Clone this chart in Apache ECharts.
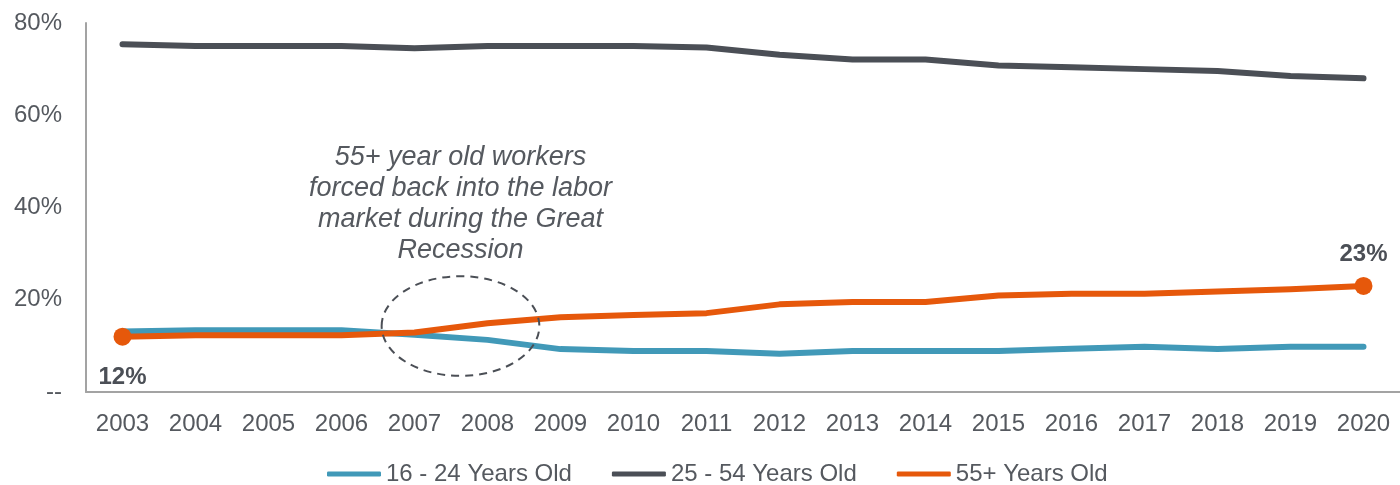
<!DOCTYPE html>
<html>
<head>
<meta charset="utf-8">
<script src="https://cdn.jsdelivr.net/npm/echarts@6/dist/echarts.min.js"></script>
<style>
  html, body { margin: 0; padding: 0; background: #ffffff; }
  #chart { width: 1400px; height: 485px; }
</style>
</head>
<body>
<div id="chart"></div>
<script>
// Share of the labor force by age group, 2003-2020 (percent)
const years = ['2003', '2004', '2005', '2006', '2007', '2008', '2009', '2010', '2011',
               '2012', '2013', '2014', '2015', '2016', '2017', '2018', '2019', '2020'];
const youth = [13.1, 13.4, 13.4, 13.4, 12.4, 11.3, 9.3, 8.9, 8.9,
               8.3, 8.9, 8.9, 8.9, 9.4, 9.8, 9.3, 9.8, 9.8];
const prime = [75.4, 75.0, 75.0, 75.0, 74.5, 75.0, 75.0, 75.0, 74.7,
               73.1, 72.1, 72.1, 70.8, 70.4, 70.0, 69.6, 68.5, 68.0];
const older = [12.0, 12.3, 12.3, 12.3, 12.9, 14.9, 16.2, 16.7, 17.1,
               19.0, 19.5, 19.5, 20.9, 21.3, 21.3, 21.8, 22.3, 23.0];
const seriesNames = ['16 - 24 Years Old', '25 - 54 Years Old', '55+ Years Old'];
const note = ['55+ year old workers', 'forced back into the labor',
              'market during the Great', 'Recession'];

const FONT = "'Liberation Sans', Arial, Helvetica, sans-serif";
const TEXT = '#55595f';
const AXIS = '#a3a3a3';
const COLORS = ['#4199b8', '#4b4f56', '#e6580b'];

// Only the first and last points of the 55+ line carry a marker and value label
const olderData = older.map((v, i) => {
  if (i === 0 || i === older.length - 1) {
    return {
      value: v,
      symbol: 'circle',
      symbolSize: 18,
      label: {
        show: true,
        position: i === 0 ? 'bottom' : 'top',
        distance: i === 0 ? 20 : 11,
        formatter: p => Math.round(p.value) + '%',
        fontFamily: FONT,
        fontSize: 24,
        fontWeight: 'bold',
        color: '#4b4f56'
      }
    };
  }
  return v;
});

function lineSeries(name, data, color, z) {
  return {
    name, type: 'line', data, z,
    symbol: 'none',
    color,
    lineStyle: { width: 6, color, cap: 'round', join: 'round' },
    itemStyle: { color },
    emphasis: { disabled: true }
  };
}

const chart = echarts.init(document.getElementById('chart'), null, { renderer: 'canvas' });

chart.setOption({
  animation: false,
  backgroundColor: '#ffffff',
  textStyle: { fontFamily: FONT },
  grid: { left: 86, top: 23, width: 1321, height: 369, containLabel: false },
  legend: {
    data: seriesNames,
    left: 322,
    top: 457,
    icon: 'roundRect',
    itemWidth: 54,
    itemHeight: 5,
    itemGap: 40,
    textStyle: { fontFamily: FONT, fontSize: 24, color: TEXT },
    selectedMode: false
  },
  xAxis: {
    type: 'category',
    data: years,
    boundaryGap: true,
    axisLine: { show: true, lineStyle: { color: AXIS, width: 2 } },
    axisTick: { show: false },
    splitLine: { show: false },
    axisLabel: { fontFamily: FONT, fontSize: 24, color: TEXT, margin: 20, interval: 0 }
  },
  yAxis: {
    type: 'value',
    min: 0, max: 80, interval: 20,
    axisLine: { show: true, lineStyle: { color: AXIS, width: 2 } },
    axisTick: { show: false },
    splitLine: { show: false },
    axisLabel: {
      fontFamily: FONT, fontSize: 24, color: TEXT, margin: 24,
      padding: [6, 0, 0, 0],
      formatter: v => (v === 0 ? '--' : v + '%')
    }
  },
  series: [
    lineSeries(seriesNames[0], youth, COLORS[0], 2),
    lineSeries(seriesNames[1], prime, COLORS[1], 2),
    lineSeries(seriesNames[2], olderData, COLORS[2], 3)
  ]
});

// Callout around the 2007-2008 crossover, placed in data space
function toPixel(idx, val) {
  const i0 = Math.floor(idx);
  const a = chart.convertToPixel({ gridIndex: 0 }, [years[i0], val]);
  const b = chart.convertToPixel({ gridIndex: 0 }, [years[i0 + 1], val]);
  const f = idx - i0;
  return [a[0] + (b[0] - a[0]) * f, a[1]];
}
const centre = toPixel(4.63, 14.3);
const edge = toPixel(5.71, 25.1);
const noteTop = toPixel(4.63, 54.3);

chart.setOption({
  graphic: [
    {
      type: 'ellipse',
      z: 10,
      shape: { cx: centre[0], cy: centre[1], rx: edge[0] - centre[0], ry: centre[1] - edge[1] },
      style: { fill: 'none', stroke: '#4b4f56', lineWidth: 2, lineDash: [8, 6] }
    },
    {
      type: 'text',
      z: 10,
      x: centre[0],
      y: noteTop[1],
      style: {
        text: note.join('\n'),
        fontFamily: FONT,
        fontSize: 27,
        fontStyle: 'italic',
        lineHeight: 31,
        fill: TEXT,
        align: 'center',
        verticalAlign: 'top'
      }
    }
  ]
});
</script>
</body>
</html>
